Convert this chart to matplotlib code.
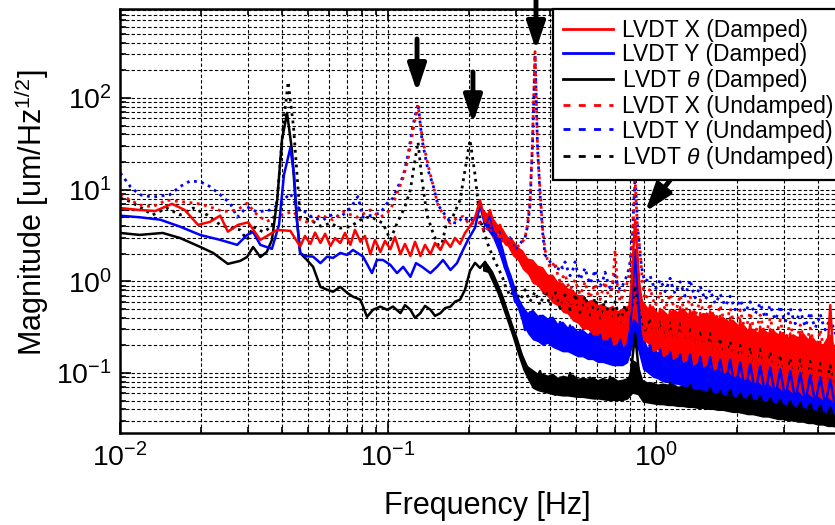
import matplotlib
matplotlib.use("Agg")
import matplotlib.pyplot as plt
from matplotlib.lines import Line2D
from matplotlib.ticker import NullFormatter

plt.rcParams["font.family"] = ["Liberation Sans", "DejaVu Sans"]
plt.rcParams["mathtext.fontset"] = "custom"
plt.rcParams["mathtext.rm"] = "Liberation Sans"
plt.rcParams["mathtext.it"] = "Liberation Sans:italic"
plt.rcParams["mathtext.default"] = "regular"

# ---- data (Hz, um/Hz^1/2) ----
# two interleaved frequency grids above ~0.22 Hz (dense, noisy part of the spectra)
f_hi = [0.2199, 0.2296, 0.2397, 0.2502, 0.2612, 0.2726, 0.2846, 0.2971, 0.3102, 0.3238,
        0.3380, 0.3528, 0.3683, 0.3845, 0.4014, 0.4190, 0.4374, 0.4566, 0.4767, 0.4976,
        0.5195, 0.5423, 0.5661, 0.5910, 0.6169, 0.6440, 0.6723, 0.7018, 0.7327, 0.7649,
        0.7985, 0.8335, 0.8701, 0.9084, 0.9483, 0.9899, 1.033, 1.079, 1.126, 1.176,
        1.227, 1.281, 1.337, 1.396, 1.458, 1.522, 1.588, 1.658, 1.731, 1.807,
        1.886, 1.969, 2.056, 2.146, 2.240, 2.339, 2.441, 2.549, 2.661, 2.778,
        2.900, 3.027, 3.160, 3.299, 3.444, 3.595, 3.753, 3.918, 4.090, 4.270,
        4.457, 4.653, 4.857]
f_mid = [0.2247, 0.2346, 0.2449, 0.2556, 0.2669, 0.2785, 0.2908, 0.3036, 0.3169, 0.3308,
         0.3453, 0.3605, 0.3763, 0.3928, 0.4101, 0.4281, 0.4469, 0.4665, 0.4870, 0.5084,
         0.5307, 0.5541, 0.5784, 0.6038, 0.6303, 0.6580, 0.6869, 0.7171, 0.7486, 0.7815,
         0.8158, 0.8516, 0.8890, 0.9281, 0.9689, 1.0114, 1.0554, 1.1024, 1.1505, 1.2015,
         1.2537, 1.3088, 1.3660, 1.4263, 1.4897, 1.5550, 1.6225, 1.6940, 1.7686, 1.8462,
         1.9270, 2.0117, 2.1006, 2.1926, 2.2886, 2.3898, 2.4940, 2.6043, 2.7188, 2.8383,
         2.9630, 3.0927, 3.2286, 3.3706, 3.5187, 3.6730, 3.8345, 4.0031, 4.1788, 4.3627,
         4.5538, 4.7540]

# LVDT X (Damped): low part, noisy trace on f_hi, band top / bottom on f_mid
x_d_f = [0.0100, 0.0118, 0.0135, 0.0156, 0.0174, 0.0195, 0.0216, 0.0236, 0.0252, 0.0275,
         0.0300, 0.0333, 0.0385, 0.0431, 0.0469, 0.0489, 0.0512, 0.0533, 0.0558, 0.0581,
         0.0608, 0.0633, 0.0662, 0.0689, 0.0722, 0.0751, 0.0787, 0.0818, 0.0857, 0.0892,
         0.0934, 0.0972, 0.1018, 0.1059, 0.1110, 0.1154, 0.1209, 0.1258, 0.1318, 0.1371,
         0.1436, 0.1494, 0.1565, 0.1628, 0.1706, 0.1774, 0.1852, 0.1933, 0.2018, 0.2107]
x_d_m = [6.3, 6.0, 5.85, 7.0, 6.0, 4.13, 4.45, 5.2, 3.48, 4.13,
         4.4, 2.83, 3.64, 3.55, 2.4, 3.13, 2.56, 3.4, 2.62, 3.3,
         2.43, 2.97, 2.62, 3.37, 2.5, 3.64, 2.7, 3.13, 1.98, 2.83,
         2.09, 2.76, 2.24, 3.05, 1.98, 2.56, 1.89, 2.7, 1.89, 2.5,
         1.98, 2.62, 2.2, 2.83, 2.37, 2.97, 2.56, 3.37, 4.0, 4.9]
x_d_hi = [7.7, 4.45, 6.0, 3.64, 4.13, 2.62, 2.83, 1.89, 1.94, 1.33,
          1.6, 1.0, 1.3, 0.75, 1.0, 0.6, 0.85, 0.5, 0.75, 0.42,
          0.62, 0.36, 0.55, 0.3, 0.5, 0.27, 0.45, 0.24, 0.42, 0.26,
          0.5, 4.68, 0.7, 0.3, 0.55, 0.22, 0.5, 0.19, 0.48, 0.2,
          0.52, 0.17, 0.48, 0.15, 0.45, 0.15, 0.47, 0.14, 0.42, 0.13,
          0.4, 0.12, 0.38, 0.11, 0.34, 0.1, 0.32, 0.095, 0.3, 0.09,
          0.28, 0.085, 0.27, 0.08, 0.27, 0.075, 0.25, 0.07, 0.22, 0.065,
          0.55, 0.06, 0.15]
x_d_top = [6.3, 5.4, 5.0, 4.2, 3.8, 3.1, 2.9, 2.4, 2.2, 1.8,
           1.75, 1.5, 1.45, 1.2, 1.2, 1.0, 0.98, 0.85, 0.82, 0.72,
           0.72, 0.62, 0.64, 0.56, 0.58, 0.52, 0.55, 0.48, 0.52, 0.55,
           1.5, 1.3, 0.62, 0.52, 0.55, 0.46, 0.5, 0.44, 0.5, 0.47,
           0.52, 0.45, 0.48, 0.42, 0.46, 0.44, 0.46, 0.4, 0.42, 0.37,
           0.39, 0.34, 0.35, 0.3, 0.31, 0.28, 0.31, 0.28, 0.3, 0.27,
           0.28, 0.25, 0.27, 0.25, 0.28, 0.24, 0.25, 0.21, 0.21, 0.26,
           0.22, 0.17]
x_d_bot = [4.6, 4.2, 3.6, 3.3, 2.7, 2.4, 1.9, 1.7, 1.35, 1.2,
           0.95, 0.9, 0.74, 0.68, 0.58, 0.54, 0.46, 0.44, 0.37, 0.35,
           0.3, 0.3, 0.26, 0.26, 0.23, 0.23, 0.2, 0.21, 0.19, 0.22,
           0.4, 0.35, 0.23, 0.21, 0.17, 0.18, 0.15, 0.16, 0.14, 0.15,
           0.13, 0.14, 0.12, 0.13, 0.115, 0.125, 0.105, 0.115, 0.098, 0.105,
           0.09, 0.096, 0.083, 0.088, 0.078, 0.08, 0.073, 0.077, 0.068, 0.071,
           0.064, 0.067, 0.06, 0.064, 0.056, 0.06, 0.054, 0.056, 0.051, 0.054,
           0.049, 0.05]

# LVDT Y (Damped)
y_d_f = [0.0100, 0.0118, 0.0141, 0.0167, 0.0199, 0.0236, 0.0273, 0.0297, 0.0313, 0.0333,
         0.0368, 0.0391, 0.0408, 0.0431, 0.0445, 0.0456, 0.0469, 0.0489, 0.0524, 0.0558,
         0.0591, 0.0622, 0.0662, 0.0702, 0.0738, 0.0805, 0.0869, 0.0907, 0.0955, 0.1018,
         0.1078, 0.1136, 0.1209, 0.1269, 0.1336, 0.1436, 0.1520, 0.1600, 0.1706, 0.1804,
         0.1900, 0.1983, 0.2107]
y_d_m = [5.2, 5.0, 4.7, 3.95, 3.2, 2.83, 2.5, 3.2, 3.45, 2.5,
         2.26, 4.13, 14.5, 28.6, 14.5, 4.68, 2.04, 1.88, 1.86, 1.58,
         1.86, 1.80, 2.04, 1.94, 2.2, 1.86, 1.23, 1.71, 1.71, 1.51,
         1.23, 1.44, 1.12, 1.58, 1.44, 1.23, 1.44, 1.71, 1.33, 1.58,
         2.2, 2.83, 3.85]
y_d_hi = [6.8, 4.13, 5.3, 3.0, 2.83, 1.4, 1.17, 0.6, 0.54, 0.295,
          0.46, 0.26, 0.42, 0.24, 0.40, 0.22, 0.36, 0.2, 0.33, 0.18,
          0.295, 0.17, 0.27, 0.158, 0.26, 0.145, 0.24, 0.139, 0.23, 0.145,
          0.295, 2.2, 0.3, 0.13, 0.2, 0.1, 0.18, 0.09, 0.17, 0.085,
          0.16, 0.08, 0.16, 0.075, 0.15, 0.075, 0.15, 0.07, 0.14, 0.068,
          0.14, 0.065, 0.13, 0.062, 0.125, 0.06, 0.12, 0.058, 0.115, 0.055,
          0.11, 0.052, 0.105, 0.05, 0.1, 0.048, 0.095, 0.046, 0.09, 0.044,
          0.085, 0.042, 0.08]
y_d_top = [6.0, 5.0, 4.4, 3.2, 2.4, 1.5, 1.05, 0.7, 0.55, 0.46,
           0.5, 0.43, 0.44, 0.4, 0.42, 0.35, 0.37, 0.32, 0.33, 0.29,
           0.3, 0.27, 0.28, 0.26, 0.26, 0.23, 0.24, 0.21, 0.24, 0.26,
           0.8, 0.7, 0.26, 0.19, 0.2, 0.17, 0.18, 0.16, 0.17, 0.15,
           0.16, 0.145, 0.155, 0.14, 0.145, 0.135, 0.14, 0.125, 0.135, 0.12,
           0.125, 0.115, 0.12, 0.105, 0.115, 0.1, 0.105, 0.096, 0.1, 0.092,
           0.096, 0.088, 0.092, 0.084, 0.088, 0.08, 0.084, 0.077, 0.08, 0.073,
           0.076, 0.07]
y_d_bot = [4.4, 3.6, 3.0, 2.2, 1.5, 1.05, 0.7, 0.5, 0.34, 0.27,
           0.23, 0.22, 0.2, 0.21, 0.19, 0.18, 0.17, 0.17, 0.16, 0.15,
           0.15, 0.14, 0.14, 0.13, 0.13, 0.125, 0.12, 0.12, 0.12, 0.13,
           0.2, 0.18, 0.11, 0.1, 0.09, 0.086, 0.08, 0.079, 0.076, 0.075,
           0.072, 0.07, 0.068, 0.066, 0.065, 0.064, 0.062, 0.06, 0.058, 0.057,
           0.056, 0.055, 0.054, 0.053, 0.052, 0.051, 0.05, 0.049, 0.048, 0.047,
           0.046, 0.045, 0.044, 0.043, 0.042, 0.041, 0.04, 0.039, 0.038, 0.037,
           0.036, 0.035]

# LVDT theta (Damped)
t_d_f = [0.0100, 0.0118, 0.0144, 0.0167, 0.0199, 0.0222, 0.0252, 0.0280, 0.0297, 0.0313,
         0.0333, 0.0352, 0.0368, 0.0385, 0.0401, 0.0419, 0.0437, 0.0456, 0.0469, 0.0497,
         0.0524, 0.0558, 0.0591, 0.0622, 0.0662, 0.0702, 0.0738, 0.0787, 0.0833, 0.0877,
         0.0934, 0.0989, 0.1041, 0.1110, 0.1154, 0.1209, 0.1258, 0.1318, 0.1371, 0.1436,
         0.1494, 0.1565, 0.1628, 0.1706, 0.1774, 0.1852, 0.1933, 0.2018, 0.2107]
t_d_m = [3.37, 3.21, 3.37, 2.97, 2.37, 2.04, 1.55, 1.67, 1.84, 2.37,
         1.84, 2.09, 2.83, 7.73, 34.8, 68.6, 27.1, 4.68, 2.04, 1.71,
         1.44, 0.87, 0.81, 0.77, 0.87, 0.75, 0.68, 0.63, 0.41, 0.49,
         0.53, 0.49, 0.53, 0.45, 0.55, 0.49, 0.40, 0.45, 0.54, 0.49,
         0.42, 0.45, 0.51, 0.53, 0.60, 0.63, 0.81, 1.3, 1.59]
t_d_hi = [1.4, 1.63, 1.33, 0.96, 0.75, 0.51, 0.36, 0.26, 0.17, 0.125,
          0.105, 0.08, 0.105, 0.063, 0.093, 0.058, 0.089, 0.064, 0.1, 0.056,
          0.084, 0.061, 0.089, 0.053, 0.082, 0.056, 0.091, 0.052, 0.08, 0.058,
          0.084, 0.27, 0.074, 0.051, 0.076, 0.048, 0.072, 0.051, 0.078, 0.046,
          0.068, 0.049, 0.074, 0.045, 0.065, 0.047, 0.068, 0.044, 0.063, 0.045,
          0.065, 0.042, 0.06, 0.043, 0.058, 0.04, 0.056, 0.039, 0.053, 0.038,
          0.051, 0.036, 0.049, 0.035, 0.047, 0.032, 0.046, 0.031, 0.044, 0.029,
          0.042, 0.028, 0.04]
t_d_top = [1.6, 1.55, 1.3, 0.98, 0.72, 0.5, 0.34, 0.24, 0.16, 0.12,
           0.11, 0.1, 0.1, 0.095, 0.1, 0.09, 0.095, 0.092, 0.098, 0.088,
           0.09, 0.088, 0.092, 0.085, 0.09, 0.086, 0.092, 0.084, 0.086, 0.09,
           0.14, 0.13, 0.085, 0.08, 0.08, 0.076, 0.078, 0.076, 0.078, 0.072,
           0.074, 0.072, 0.072, 0.068, 0.07, 0.068, 0.068, 0.065, 0.066, 0.064,
           0.064, 0.061, 0.06, 0.059, 0.058, 0.056, 0.056, 0.054, 0.054, 0.052,
           0.052, 0.05, 0.05, 0.049, 0.048, 0.047, 0.046, 0.045, 0.044, 0.043,
           0.042, 0.041]
t_d_bot = [1.3, 1.25, 0.95, 0.72, 0.5, 0.35, 0.24, 0.16, 0.11, 0.085,
           0.068, 0.064, 0.062, 0.06, 0.058, 0.057, 0.056, 0.056, 0.055, 0.054,
           0.054, 0.053, 0.052, 0.052, 0.051, 0.05, 0.05, 0.05, 0.05, 0.052,
           0.06, 0.058, 0.048, 0.047, 0.046, 0.045, 0.045, 0.044, 0.044, 0.043,
           0.043, 0.042, 0.042, 0.041, 0.041, 0.04, 0.04, 0.039, 0.039, 0.038,
           0.037, 0.037, 0.036, 0.035, 0.035, 0.034, 0.033, 0.033, 0.032, 0.031,
           0.031, 0.03, 0.03, 0.029, 0.029, 0.028, 0.028, 0.027, 0.027, 0.026,
           0.026, 0.025]

# LVDT X (Undamped)
x_u_f = [0.0100, 0.0109, 0.0118, 0.0132, 0.0149, 0.0167, 0.0193, 0.0216, 0.0242, 0.0273,
         0.0297, 0.0324, 0.0352, 0.0385, 0.0419, 0.0443, 0.0469, 0.0512, 0.0558, 0.0622,
         0.0678, 0.0764, 0.0857, 0.0934, 0.1018, 0.1078, 0.1136, 0.1184, 0.1237, 0.1291,
         0.1336, 0.1406, 0.1468, 0.1532, 0.1628, 0.1706, 0.1804, 0.1900, 0.2018, 0.2107]
x_u_m = [8.8, 7.7, 6.8, 6.5, 7.7, 7.4, 7.1, 6.5, 5.75, 6.0,
         7.1, 5.3, 4.5, 5.1, 5.55, 5.75, 4.68, 4.3, 5.3, 4.68,
         5.75, 5.0, 6.0, 5.0, 6.0, 9.1, 13.5, 21, 44.8, 84,
         38, 18.6, 11.3, 6.8, 4.9, 4.3, 4.9, 5.1, 4.13, 4.45]
x_u_hi = [4.3, 3.45, 3.95, 2.83, 3.13, 2.45, 2.83, 2.2, 2.5, 3.0,
          7.7, 320, 9.9, 2.2, 1.4, 1.63, 0.99, 1.2, 0.81, 1.04,
          0.71, 0.99, 0.66, 0.94, 0.63, 0.99, 0.66, 2.2, 0.6, 0.81,
          1.33, 12.8, 2.2, 0.63, 0.84, 0.54, 0.77, 0.49, 0.73, 0.46,
          0.71, 0.44, 0.69, 0.42, 0.63, 0.40, 0.58, 0.36, 0.55, 0.335,
          0.51, 0.31, 0.49, 0.295, 0.46, 0.27, 0.43, 0.26, 0.40, 0.23,
          0.38, 0.22, 0.36, 0.2, 0.335, 0.19, 0.31, 0.18, 0.295, 0.17,
          0.27, 0.158, 0.26]
x_u_mid = [3.8, 3.7, 3.3, 3.0, 2.7, 2.6, 2.5, 2.4, 2.7, 4.2,
           35, 30, 3.8, 1.7, 1.5, 1.2, 1.1, 0.95, 0.9, 0.85,
           0.82, 0.78, 0.8, 0.72, 0.8, 0.75, 0.9, 0.85, 0.7, 1.0,
           3.0, 3.5, 0.9, 0.7, 0.66, 0.62, 0.6, 0.6, 0.58, 0.55,
           0.56, 0.55, 0.52, 0.5, 0.48, 0.46, 0.44, 0.43, 0.42, 0.4,
           0.39, 0.38, 0.37, 0.36, 0.34, 0.33, 0.32, 0.31, 0.3, 0.29,
           0.28, 0.27, 0.26, 0.25, 0.25, 0.24, 0.23, 0.22, 0.21, 0.21,
           0.2, 0.2]

# LVDT Y (Undamped)
y_u_f = [0.0100, 0.0109, 0.0118, 0.0132, 0.0153, 0.0167, 0.0182, 0.0199, 0.0216, 0.0236,
         0.0257, 0.0273, 0.0297, 0.0324, 0.0363, 0.0395, 0.0431, 0.0456, 0.0497, 0.0524,
         0.0571, 0.0622, 0.0662, 0.0722, 0.0770, 0.0805, 0.0877, 0.0934, 0.0989, 0.1041,
         0.1087, 0.1136, 0.1184, 0.1237, 0.1291, 0.1336, 0.1406, 0.1468, 0.1532, 0.1628,
         0.1706, 0.1804, 0.1900, 0.2018, 0.2107]
y_u_m = [15.2, 10.8, 8.8, 8.3, 8.8, 10.8, 12.4, 12.2, 10.8, 8.8,
         7.1, 5.0, 6.5, 5.7, 6.0, 7.1, 9.1, 6.5, 5.55, 4.9,
         4.68, 5.4, 5.0, 6.3, 8.4, 5.0, 5.3, 5.55, 7.1, 8.1,
         10.8, 14.0, 23.9, 50.8, 87, 34.8, 16.4, 11.3, 6.8, 5.3,
         4.45, 4.3, 5.0, 4.45, 5.3]
y_u_hi = [4.45, 3.64, 4.25, 3.13, 3.45, 2.56, 3.0, 2.2, 2.56, 3.0,
          6.8, 294, 8.8, 1.94, 1.63, 1.47, 1.51, 1.63, 1.15, 1.63,
          1.04, 1.4, 0.94, 1.33, 0.89, 1.26, 0.84, 1.17, 0.81, 1.04,
          1.63, 14.5, 1.94, 0.99, 1.15, 0.81, 1.04, 0.77, 1.08, 0.73,
          0.99, 0.69, 1.04, 0.66, 0.89, 0.63, 0.81, 0.57, 0.73, 0.54,
          0.69, 0.49, 0.63, 0.46, 0.6, 0.44, 0.58, 0.40, 0.55, 0.38,
          0.54, 0.36, 0.51, 0.345, 0.49, 0.32, 0.46, 0.31, 0.44, 0.295,
          0.40, 0.27, 0.36]
y_u_mid = [4.0, 3.9, 3.5, 3.3, 3.0, 2.7, 2.6, 2.4, 2.8, 4.0,
           32, 28, 3.5, 1.8, 1.5, 1.3, 1.4, 1.35, 1.3, 1.25,
           1.2, 1.1, 1.1, 1.05, 1.0, 1.0, 0.95, 0.92, 0.9, 1.2,
           3.5, 4.0, 1.2, 1.05, 0.95, 0.9, 0.92, 0.9, 0.86, 0.85,
           0.82, 0.85, 0.8, 0.76, 0.74, 0.7, 0.68, 0.64, 0.62, 0.6,
           0.58, 0.55, 0.54, 0.52, 0.51, 0.5, 0.48, 0.47, 0.45, 0.44,
           0.43, 0.42, 0.41, 0.4, 0.39, 0.38, 0.37, 0.36, 0.35, 0.34,
           0.33, 0.32]

# LVDT theta (Undamped)
t_u_f = [0.0100, 0.0109, 0.0118, 0.0132, 0.0149, 0.0167, 0.0187, 0.0211, 0.0236, 0.0257,
         0.0280, 0.0297, 0.0313, 0.0341, 0.0368, 0.0385, 0.0405, 0.0423, 0.0443, 0.0469,
         0.0512, 0.0558, 0.0608, 0.0662, 0.0722, 0.0787, 0.0857, 0.0955, 0.1018, 0.1078,
         0.1154, 0.1209, 0.1249, 0.1291, 0.1336, 0.1394, 0.1468, 0.1565, 0.1650, 0.1743,
         0.1852, 0.1933, 0.2018, 0.2107]
t_u_m = [8.1, 7.4, 6.5, 5.3, 6.3, 5.3, 6.3, 5.3, 4.13, 3.8,
         3.64, 2.83, 3.95, 3.45, 3.95, 7.7, 48, 150, 48, 5.0,
         4.68, 4.0, 4.3, 3.8, 3.95, 4.68, 5.1, 4.3, 2.83, 4.3,
         6.5, 10, 18.6, 33, 12.8, 5.3, 3.37, 2.2, 4.3, 5.1,
         7.7, 16.4, 34.8, 14.5]
t_u_hi = [4.68, 3.21, 2.2, 1.63, 1.26, 0.91, 0.69, 0.84, 0.63, 0.81,
          0.6, 0.77, 0.55, 0.81, 0.54, 0.77, 0.51, 0.71, 0.49, 0.73,
          0.46, 0.69, 0.43, 0.66, 0.40, 0.63, 0.38, 0.6, 0.36, 0.55,
          0.40, 0.9, 0.42, 0.295, 0.40, 0.26, 0.38, 0.24, 0.36, 0.23,
          0.345, 0.22, 0.32, 0.2, 0.295, 0.19, 0.27, 0.17, 0.24, 0.158,
          0.22, 0.145, 0.2, 0.134, 0.19, 0.123, 0.18, 0.114, 0.17, 0.108,
          0.158, 0.104, 0.145, 0.096, 0.139, 0.089, 0.134, 0.084, 0.127, 0.08,
          0.12, 0.076, 0.114]
t_u_mid = [3.9, 2.6, 1.9, 1.45, 1.1, 0.8, 0.75, 0.72, 0.7, 0.7,
           0.68, 0.66, 0.65, 0.66, 0.64, 0.62, 0.6, 0.6, 0.58, 0.57,
           0.56, 0.55, 0.53, 0.52, 0.5, 0.49, 0.48, 0.47, 0.45, 0.45,
           0.6, 0.6, 0.36, 0.34, 0.32, 0.31, 0.3, 0.29, 0.28, 0.28,
           0.27, 0.26, 0.25, 0.24, 0.23, 0.22, 0.21, 0.2, 0.195, 0.19,
           0.18, 0.17, 0.165, 0.16, 0.155, 0.15, 0.145, 0.14, 0.135, 0.13,
           0.125, 0.12, 0.118, 0.115, 0.112, 0.108, 0.105, 0.1, 0.098, 0.095,
           0.092, 0.09]

labels = ["LVDT X (Damped)", "LVDT Y (Damped)", r"LVDT $\mathit{\theta}$ (Damped)",
          "LVDT X (Undamped)", "LVDT Y (Undamped)", r"LVDT $\mathit{\theta}$ (Undamped)"]

# arrows pointing at resonances: tip and tail (Hz, magnitude)
arrow_tip_f = [0.128, 0.207, 0.3557, 0.908]
arrow_tip_m = [116, 53, 334, 5.7]
arrow_tail_f = [0.128, 0.207, 0.3557, 1.126]
arrow_tail_m = [440, 192, 1170, 12.7]


def undamped(f_low, m_low, m_hi, m_mid):
    # low part as read, then the two high-frequency grids merged in frequency order
    pairs = sorted(zip(f_hi + f_mid, m_hi + m_mid))
    return f_low + [p[0] for p in pairs], m_low + [p[1] for p in pairs]


def damped(color, f_low, m_low, m_hi, top, bot):
    ax.fill_between(f_mid, bot, top, color=color, lw=0)
    ax.plot(f_low + f_hi, m_low + m_hi, color=color, lw=1.8)


fig = plt.figure(figsize=(8.35, 5.25), dpi=100)
ax = fig.add_axes([120.3 / 835, (525 - 433.3) / 525, 804 / 835, 424 / 525])
ax.set_xscale("log")
ax.set_yscale("log")

dot = (0, (1, 1.65))
ax.plot(*undamped(t_u_f, t_u_m, t_u_hi, t_u_mid), color="k", lw=2.0, ls=dot)
ax.plot(*undamped(y_u_f, y_u_m, y_u_hi, y_u_mid), color="b", lw=2.0, ls=dot)
ax.plot(*undamped(x_u_f, x_u_m, x_u_hi, x_u_mid), color="r", lw=2.0, ls=dot)
damped("k", t_d_f, t_d_m, t_d_hi, t_d_top, t_d_bot)
damped("b", y_d_f, y_d_m, y_d_hi, y_d_top, y_d_bot)
damped("r", x_d_f, x_d_m, x_d_hi, x_d_top, x_d_bot)

ax.set_xlim(0.01, 10)
ax.set_ylim(0.022, 927)
ax.set_xticks([0.01, 0.1, 1])

ax.set_axisbelow(True)
ax.grid(True, which="both", color="k", lw=0.8, ls=(0, (3, 2)))
ax.xaxis.set_minor_formatter(NullFormatter())
ax.yaxis.set_minor_formatter(NullFormatter())
ax.tick_params(which="both", direction="in", top=True, right=True, labelsize=20.5, width=1.2)
ax.tick_params(which="major", length=8)
ax.tick_params(which="minor", length=4)
ax.tick_params(axis="x", pad=7)
ax.tick_params(axis="y", pad=6)
for s in ax.spines.values():
    s.set_linewidth(1.8)

for tf, tm, sf, sm in zip(arrow_tip_f, arrow_tip_m, arrow_tail_f, arrow_tail_m):
    ax.annotate("", xy=(tf, tm), xytext=(sf, sm), annotation_clip=False,
                arrowprops=dict(arrowstyle="-|>,head_length=0.75,head_width=0.25",
                                lw=3.5, color="k", shrinkA=0, shrinkB=0,
                                mutation_scale=22))

fig.text(487.5 / 835, 1 - 506 / 525, "Frequency [Hz]", fontsize=22, ha="center", va="center")
fig.text(32 / 835, 1 - 213 / 525, "Magnitude [um/Hz$^{1/2}$]", fontsize=22,
         rotation=90, ha="center", va="center")

dash = (0, (2.5, 3))
handles = [Line2D([], [], color="r", lw=2), Line2D([], [], color="b", lw=2),
           Line2D([], [], color="k", lw=2), Line2D([], [], color="r", lw=2, ls=dash),
           Line2D([], [], color="b", lw=2, ls=dash), Line2D([], [], color="k", lw=2, ls=dash)]
leg = fig.legend(handles, labels, loc="upper left", bbox_to_anchor=(553 / 835, 1 - 9.3 / 525),
                 fontsize=16.5, frameon=True, fancybox=False, edgecolor="k", framealpha=1,
                 borderpad=0.42, labelspacing=0.05, handlelength=2.2, handletextpad=0.4,
                 borderaxespad=0)
leg.get_frame().set_linewidth(1.6)

fig.savefig("out.png", dpi=100)
